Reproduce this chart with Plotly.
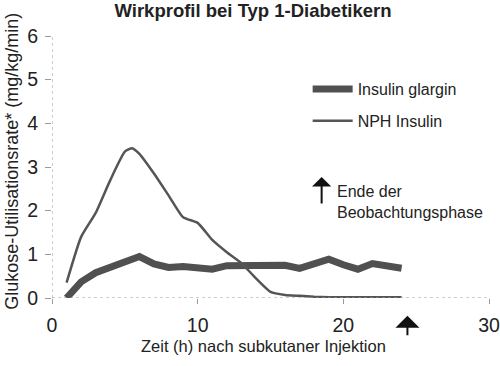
import plotly.graph_objects as go

hours = [1, 2, 3, 4, 5, 6, 7, 8, 9, 10, 11, 12, 13, 14, 15, 16, 17, 18, 19, 20, 21, 22, 23, 24]
glargin = [0.0, 0.37, 0.58, 0.70, 0.82, 0.95, 0.78, 0.70, 0.72, 0.68, 0.66, 0.74, 0.74, 0.75, 0.77, 0.75, 0.68, 0.80, 0.89, 0.76, 0.66, 0.79, 0.75, 0.68]

nph_hours = [1, 2, 3, 4, 5, 5.5, 6, 7, 8, 9, 10, 11, 12, 13, 14, 15, 16, 17, 18, 19, 20, 21, 22, 23, 24]
nph = [0.35, 1.4, 1.95, 2.7, 3.35, 3.43, 3.3, 2.85, 2.35, 1.85, 1.72, 1.33, 1.05, 0.8, 0.45, 0.14, 0.07, 0.05, 0.03, 0.02, 0.02, 0.02, 0.02, 0.02, 0.02]

x_ticks = [0, 10, 20, 30]
y_ticks = [0, 1, 2, 3, 4, 5, 6]
end_obs = 24.4

FONT = "Liberation Sans, Arial, sans-serif"
TXT = "#222222"

fig = go.Figure()
fig.add_trace(go.Scatter(x=hours, y=glargin, mode="lines", name="Insulin glargin",
                         line=dict(color="#505050", width=7), legendgroup="a"))
fig.add_trace(go.Scatter(x=nph_hours, y=nph, mode="lines", name="NPH Insulin",
                         line=dict(color="#555555", width=2.5, shape="spline", smoothing=0.5),
                         legendgroup="b"))

# dotted axis lines
fig.add_shape(type="line", xref="x", yref="paper", x0=0, x1=0, y0=0, y1=1,
              line=dict(color="#9a9a9a", width=1, dash="dot"))
fig.add_shape(type="line", xref="paper", yref="y", x0=0, x1=1, y0=0, y1=0,
              line=dict(color="#9a9a9a", width=1, dash="dot"))

# arrow below axis
fig.add_annotation(x=end_obs, y=-0.068, xref="x", yref="paper", text="",
                   showarrow=True, arrowhead=1, arrowsize=2, arrowwidth=2,
                   arrowcolor="#111111", ax=0, ay=21)
# legend arrow
fig.add_annotation(x=0.617, y=0.462, xref="paper", yref="paper", text="",
                   showarrow=True, arrowhead=1, arrowsize=1.6, arrowwidth=2,
                   arrowcolor="#111111", ax=0, ay=28)
fig.add_annotation(x=0.647, y=0.366, xref="paper", yref="paper",
                   text="Ende der<br>Beobachtungsphase", showarrow=False,
                   xanchor="left", yanchor="middle", align="left",
                   font=dict(size=16, color=TXT, family=FONT))
# axis titles
fig.add_annotation(x=0.483, y=-0.185, xref="paper", yref="paper",
                   text="Zeit (h) nach subkutaner Injektion", showarrow=False,
                   xanchor="center", yanchor="middle",
                   font=dict(size=16.5, color=TXT, family=FONT))
fig.add_annotation(x=-0.092, y=0.523, xref="paper", yref="paper",
                   text="Glukose-Utilisationsrate* (mg/kg/min)", showarrow=False,
                   textangle=-90, xanchor="center", yanchor="middle",
                   font=dict(size=18, color=TXT, family=FONT))

fig.update_layout(
    width=500, height=366,
    margin=dict(l=52, r=11, t=36, b=68),
    paper_bgcolor="white", plot_bgcolor="white",
    font=dict(family=FONT, size=16, color=TXT),
    title=dict(text="<b>Wirkprofil bei Typ 1-Diabetikern</b>", x=0.506, xanchor="center",
               y=0.97, yanchor="middle", font=dict(size=18.5, color=TXT), automargin=False),
    showlegend=True,
    legend=dict(x=0.585, y=0.862, xanchor="left", yanchor="top", bgcolor="rgba(0,0,0,0)",
                font=dict(size=16, color=TXT), itemwidth=40, tracegroupgap=8),
    xaxis=dict(range=[0, 30], tickvals=x_ticks, showgrid=False, zeroline=False,
               showline=False, ticks="outside", ticklen=5, tickcolor="#9a9a9a",
               tickfont=dict(size=19.5), automargin=False, ticklabeloverflow="allow",
               ticklabelstandoff=5),
    yaxis=dict(range=[0, 6], tickvals=y_ticks, showgrid=False, zeroline=False,
               showline=False, ticks="outside", ticklen=6, tickcolor="#9a9a9a",
               tickfont=dict(size=19.5), automargin=False, ticklabelstandoff=3),
)

fig.write_html("out.html", post_script="document.body.style.margin='0';",
               config={"displayModeBar": False})
